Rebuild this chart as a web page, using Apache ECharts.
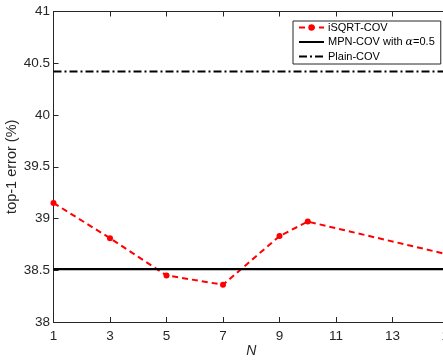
<!DOCTYPE html>
<html>
<head>
<meta charset="utf-8">
<script src="https://cdn.jsdelivr.net/npm/echarts@6/dist/echarts.min.js"></script>
<style>html,body{margin:0;padding:0;background:#fff;}#c{width:443px;height:362px;}</style>
</head>
<body>
<div id="c"></div>
<script>
// Data
const nValues = [1, 3, 5, 7, 9, 10, 15];
const isqrtCov = [39.15, 38.81, 38.45, 38.36, 38.83, 38.97, 38.65];
const mpnCovValue = 38.51;
const plainCovValue = 40.42;
const xTicks = [1, 3, 5, 7, 9, 11, 13, 15];
const xRange = [1, 15];
const yRange = [38, 41];
const yStep = 0.5;
const seriesNames = ['iSQRT-COV', 'MPN-COV with α=0.5', 'Plain-COV'];

const axisColor = '#262626';
const chart = echarts.init(document.getElementById('c'), null, {renderer: 'canvas'});

const pairs = (xs, ys) => xs.map((x, i) => [x, ys[i]]);
const flat = (v) => [[xRange[0], v], [xRange[1], v]];

chart.setOption({
  animation: false,
  backgroundColor: '#fff',
  textStyle: {fontFamily: 'Liberation Sans, Arial, sans-serif'},
  grid: {left: 53.5, top: 11.5, width: 395.5, height: 310.5, containLabel: false, outerBoundsMode: 'none'},
  legend: {
    orient: 'vertical',
    left: 293, top: 21,
    padding: [1, 6, 2, 5],
    itemGap: 3.5,
    itemWidth: 25, itemHeight: 8,
    backgroundColor: '#fff',
    borderColor: axisColor, borderWidth: 1,
    textStyle: {fontSize: 11, color: '#000', padding: [0, 0, 0, -1],
      rich: {a: {fontFamily: 'DejaVu Serif, serif', fontStyle: 'italic', fontSize: 11}}},
    formatter: (name) => name.replace('α', '{a|α}'),
    data: [
      {name: seriesNames[0]},
      {name: seriesNames[1], itemStyle: {opacity: 0}},
      {name: seriesNames[2], itemStyle: {opacity: 0}}
    ]
  },
  xAxis: [{
    type: 'value', min: xRange[0], max: xRange[1],
    name: 'N', nameLocation: 'middle', nameGap: 22, nameMoveOverlap: false,
    nameTextStyle: {fontStyle: 'italic', fontSize: 14, color: axisColor},
    axisLine: {show: true, onZero: false, lineStyle: {color: axisColor, width: 1}},
    axisTick: {show: true, inside: true, length: 5, customValues: xTicks, lineStyle: {color: axisColor}},
    axisLabel: {customValues: xTicks, fontSize: 13.5, color: axisColor, margin: 7, showMaxLabel: true, hideOverlap: false},
    splitLine: {show: false}
  }, {
    type: 'value', position: 'top', min: xRange[0], max: xRange[1],
    axisLine: {show: true, onZero: false, lineStyle: {color: axisColor, width: 1}},
    axisTick: {show: true, inside: true, length: 5, customValues: xTicks, lineStyle: {color: axisColor}},
    axisLabel: {show: false},
    splitLine: {show: false}
  }],
  yAxis: {
    type: 'value', min: yRange[0], max: yRange[1], interval: yStep,
    name: 'top-1 error (%)', nameLocation: 'middle', nameGap: 34, nameMoveOverlap: false,
    nameTextStyle: {fontSize: 14.5, color: axisColor},
    axisLine: {show: true, lineStyle: {color: axisColor, width: 1}},
    axisTick: {show: true, inside: true, length: 5, lineStyle: {color: axisColor}},
    axisLabel: {fontSize: 13.5, color: axisColor, margin: 3.5},
    splitLine: {show: false}
  },
  series: [{
    name: seriesNames[0], type: 'line', data: pairs(nValues, isqrtCov),
    symbol: 'circle', symbolSize: 6,
    itemStyle: {color: '#ff0000'},
    lineStyle: {color: '#ff0000', width: 2, type: [6, 4]},
    z: 3
  }, {
    name: seriesNames[1], type: 'line', data: flat(mpnCovValue),
    symbol: 'none', itemStyle: {color: '#000'},
    lineStyle: {color: '#000', width: 2.2, type: 'solid'}
  }, {
    name: seriesNames[2], type: 'line', data: flat(plainCovValue),
    symbol: 'none', itemStyle: {color: '#000'},
    lineStyle: {color: '#000', width: 2, type: [8, 3, 2, 3]}
  }]
});
</script>
</body>
</html>
